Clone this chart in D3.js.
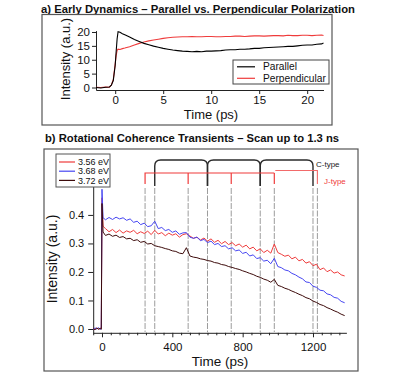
<!DOCTYPE html>
<html>
<head>
<meta charset="utf-8">
<script src="https://cdn.jsdelivr.net/npm/d3@7"></script>
<style>
  body { margin: 0; background: #fff; }
  svg { display: block; font-family: "Liberation Sans", Arial, sans-serif; }
  .axis path, .axis line { stroke: #222; stroke-width: 1; }
  .axis text { fill: #111; }
</style>
</head>
<body>
<svg id="chart" width="397" height="376"></svg>
<script>
// ---- panel a data (ps, a.u.) ----
var aTime = [-2, -1.5, -1, -0.6, -0.4, -0.2, 0, 0.1, 0.2, 0.3, 0.5, 0.75, 1, 1.5, 2, 2.5, 3, 3.5, 4, 4.5,
  5, 5.5, 6, 6.5, 7, 7.5, 8, 8.5, 9, 9.5, 10, 10.5, 11, 11.5, 12, 12.5, 13, 13.5, 14, 14.5,
  15, 15.5, 16, 16.5, 17, 17.5, 18, 18.5, 19, 19.5, 20, 20.5, 21, 21.5, 21.7];
var aParallel = [0.0, -0.2, 0.1, 0.2, 0.8, 2.5, 8, 13, 17.5, 20.1, 19.9, 19.4, 19.0, 18.2, 17.3, 16.6, 15.9, 15.4, 14.9, 14.5,
  14.1, 13.8, 13.5, 13.3, 13.1, 13.0, 12.9, 13.0, 12.9, 13.1, 13.1, 13.2, 13.3, 13.5, 13.6, 13.6, 13.8, 13.8, 13.9, 14.1,
  14.1, 14.3, 14.4, 14.5, 14.6, 14.7, 14.8, 14.8, 15.0, 15.2, 15.3, 15.3, 15.6, 15.7, 16.0];
var aPerp = [0.1, 0.0, 0.2, 0.1, 0.9, 2.8, 8.5, 11.5, 13.4, 13.8, 13.7, 14.0, 14.2, 14.7, 15.3, 15.9, 16.4, 16.8, 17.1, 17.4,
  17.7, 17.9, 18.1, 18.2, 18.3, 18.3, 18.4, 18.3, 18.3, 18.4, 18.4, 18.3, 18.3, 18.4, 18.4, 18.5, 18.5, 18.4, 18.5, 18.6,
  18.6, 18.5, 18.6, 18.7, 18.7, 18.6, 18.8, 18.7, 18.7, 18.8, 18.8, 18.7, 18.8, 18.9, 18.7];
var aTicksX = [0, 5, 10, 15, 20];
var aTicksY = [0, 5, 10, 15, 20];

// ---- panel b data (ps, a.u.) ----
var bTime = [-50, -40, -30, -20, -10, -4, 0, 6,
  20, 40, 60, 80, 100, 120, 140, 160, 180, 200, 220, 240, 260, 280, 300, 320, 340, 360, 380, 400,
  420, 440, 460, 480, 500, 520, 540, 560, 580, 600, 620, 640, 660, 680, 700, 720, 740, 760, 780, 800,
  820, 840, 860, 880, 900, 920, 940, 960, 980, 1000, 1020, 1040, 1060, 1080, 1100, 1120, 1140, 1160, 1180, 1200,
  1220, 1240, 1260, 1280, 1300, 1320, 1340, 1360, 1380];
var b356 = [0.002, -0.003, 0.004, -0.001, 0.003, 0.001, 0.46, 0.36,
  0.352, 0.341, 0.349, 0.338, 0.347, 0.336, 0.344, 0.339, 0.346, 0.334, 0.341, 0.335, 0.343, 0.331, 0.346, 0.333, 0.338, 0.327, 0.336, 0.329,
  0.334, 0.322, 0.331, 0.334, 0.326, 0.318, 0.322, 0.312, 0.319, 0.308, 0.316, 0.304, 0.311, 0.299, 0.307, 0.296, 0.303, 0.292, 0.298, 0.287,
  0.294, 0.281, 0.287, 0.274, 0.281, 0.268, 0.276, 0.266, 0.298, 0.268, 0.262, 0.255, 0.259, 0.246, 0.252, 0.239, 0.244, 0.231, 0.236, 0.222,
  0.227, 0.208, 0.214, 0.201, 0.207, 0.196, 0.200, 0.190, 0.186];
var b368 = [-0.002, 0.004, 0.0, 0.005, -0.002, 0.002, 0.49, 0.39,
  0.383, 0.391, 0.384, 0.392, 0.386, 0.390, 0.381, 0.386, 0.374, 0.378, 0.366, 0.371, 0.359, 0.362, 0.378, 0.352, 0.356, 0.345, 0.349, 0.339,
  0.344, 0.332, 0.337, 0.338, 0.322, 0.318, 0.322, 0.310, 0.314, 0.303, 0.308, 0.296, 0.300, 0.289, 0.292, 0.281, 0.285, 0.274, 0.277, 0.265,
  0.269, 0.256, 0.260, 0.247, 0.250, 0.238, 0.241, 0.229, 0.248, 0.219, 0.215, 0.207, 0.204, 0.195, 0.190, 0.182, 0.176, 0.165, 0.163, 0.150,
  0.146, 0.136, 0.134, 0.123, 0.120, 0.111, 0.108, 0.097, 0.092];
var b372 = [0.001, -0.002, 0.003, 0.0, 0.002, -0.001, 0.44, 0.34,
  0.328, 0.333, 0.325, 0.329, 0.321, 0.324, 0.316, 0.318, 0.310, 0.313, 0.304, 0.307, 0.298, 0.300, 0.292, 0.289, 0.286, 0.282, 0.279, 0.274,
  0.272, 0.266, 0.264, 0.285, 0.256, 0.252, 0.250, 0.246, 0.244, 0.240, 0.238, 0.233, 0.231, 0.226, 0.224, 0.219, 0.216, 0.212, 0.209, 0.204,
  0.200, 0.195, 0.191, 0.185, 0.181, 0.175, 0.171, 0.164, 0.174, 0.153, 0.149, 0.143, 0.139, 0.133, 0.128, 0.122, 0.117, 0.110, 0.106, 0.098,
  0.093, 0.086, 0.082, 0.075, 0.070, 0.064, 0.059, 0.052, 0.047];
var bTicksX = [0, 400, 800, 1200];
var bMinorX = [-50, 50, 100, 150, 200, 250, 300, 350, 450, 500, 550, 600, 650, 700, 750, 850, 900, 950, 1000, 1050, 1100, 1150, 1250, 1300, 1350];
var bTicksY = [0, 0.1, 0.2, 0.3, 0.4];
var cType = [300, 600, 900, 1200];   // C-type recurrences
var jType = [245, 490, 735, 980, 1225]; // J-type recurrences

var bSeries = [
  {name: "3.56 eV", values: b356, color: "#ef3b3b"},
  {name: "3.68 eV", values: b368, color: "#4646f2"},
  {name: "3.72 eV", values: b372, color: "#3d0b0b"}
];

var svg = d3.select("#chart");

//======== panel a ========
svg.append("text").attr("x", 41).attr("y", 12.5)
  .attr("font-size", 11).attr("font-weight", "bold").attr("fill", "#111")
  .attr("textLength", 314).attr("lengthAdjust", "spacingAndGlyphs")
  .text("a) Early Dynamics \u2013 Parallel vs. Perpendicular Polarization");
svg.append("rect").attr("x", 42).attr("y", 14.5).attr("width", 290).attr("height", 110.5)
  .attr("fill", "none").attr("stroke", "#555").attr("stroke-width", 1.2);

var xa = d3.scaleLinear().domain([-2, 21.7]).range([96, 323.5]);
var ya = d3.scaleLinear().domain([-0.9, 20.5]).range([90, 30.6]);

svg.append("g").attr("class", "axis").attr("transform", "translate(0,90)")
  .call(d3.axisBottom(xa).tickValues(aTicksX).tickSize(4).tickSizeOuter(0).tickPadding(2))
  .selectAll("text").attr("font-size", 11.5);
svg.append("g").attr("class", "axis").attr("transform", "translate(96,0)")
  .call(d3.axisLeft(ya).tickValues(aTicksY).tickSize(4).tickSizeOuter(0).tickPadding(2))
  .selectAll("text").attr("font-size", 11.5);

var lineA = d3.line().x(function (d) { return xa(d[0]); }).y(function (d) { return ya(d[1]); });
svg.append("path").datum(d3.zip(aTime, aPerp)).attr("d", lineA)
  .attr("fill", "none").attr("stroke", "#ef3b3b").attr("stroke-width", 1.1);
svg.append("path").datum(d3.zip(aTime, aParallel)).attr("d", lineA)
  .attr("fill", "none").attr("stroke", "#000").attr("stroke-width", 1.1);

svg.append("text").attr("x", 211).attr("y", 119).attr("text-anchor", "middle")
  .attr("font-size", 13).attr("fill", "#111").text("Time (ps)");
svg.append("text").attr("transform", "translate(70,59) rotate(-90)").attr("text-anchor", "middle")
  .attr("font-size", 13).attr("fill", "#111").text("Intensity (a.u.)");

// legend a
var legA = svg.append("g");
legA.append("rect").attr("x", 233).attr("y", 60).attr("width", 96).attr("height", 24)
  .attr("fill", "#fff").attr("stroke", "#444").attr("stroke-width", 1);
[{n: "Parallel", c: "#000"}, {n: "Perpendicular", c: "#ef3b3b"}].forEach(function (e, i) {
  var yy = 66.8 + i * 11.5;
  legA.append("line").attr("x1", 237).attr("x2", 255).attr("y1", yy).attr("y2", yy)
    .attr("stroke", e.c).attr("stroke-width", 1.2);
  legA.append("text").attr("x", 263).attr("y", yy + 3.6).attr("font-size", 10.2).attr("fill", "#111").text(e.n);
});

//======== panel b ========
svg.append("text").attr("x", 45).attr("y", 141.5)
  .attr("font-size", 11).attr("font-weight", "bold").attr("fill", "#111")
  .attr("textLength", 294).attr("lengthAdjust", "spacingAndGlyphs")
  .text("b) Rotational Coherence Transients \u2013 Scan up to 1.3 ns");
svg.append("rect").attr("x", 44).attr("y", 149).attr("width", 314).attr("height", 222)
  .attr("fill", "none").attr("stroke", "#555").attr("stroke-width", 1.2);

var xb = d3.scaleLinear().domain([-50, 1390]).range([93.2, 346.4]);
var yb = d3.scaleLinear().domain([-0.0133, 0.575]).range([332.8, 165]);

// dashed markers
var bracketBottom = 186;
cType.concat(jType).forEach(function (t) {
  svg.append("line").attr("x1", xb(t)).attr("x2", xb(t)).attr("y1", bracketBottom + 2).attr("y2", 332)
    .attr("stroke", "#9c9c9c").attr("stroke-width", 1).attr("stroke-dasharray", "6,1.5");
});

svg.append("g").attr("class", "axis").attr("transform", "translate(0,332.8)")
  .call(d3.axisBottom(xb).tickValues(bTicksX).tickSize(4.5).tickSizeOuter(0).tickPadding(6).tickFormat(d3.format("d")))
  .selectAll("text").attr("font-size", 11.5);
svg.append("g").attr("class", "axis").attr("transform", "translate(0,332.8)")
  .call(d3.axisBottom(xb).tickValues(bMinorX).tickSize(2.5).tickSizeOuter(0).tickFormat(""))
  .select(".domain").remove();
svg.append("g").attr("class", "axis").attr("transform", "translate(93.2,0)")
  .call(d3.axisLeft(yb).tickValues(bTicksY).tickSize(5).tickSizeOuter(0).tickPadding(4).tickFormat(d3.format(".1f")))
  .selectAll("text").attr("font-size", 11);

var lineB = d3.line().x(function (d) { return xb(d[0]); }).y(function (d) { return yb(d[1]); });
bSeries.forEach(function (s) {
  svg.append("path").datum(d3.zip(bTime, s.values)).attr("d", lineB)
    .attr("fill", "none").attr("stroke", s.color).attr("stroke-width", 1);
});

// C-type bracket (black, rounded)
var cTop = 160, r = 6;
for (var i = 0; i < cType.length - 1; i++) {
  var x1 = xb(cType[i]), x2 = xb(cType[i + 1]);
  svg.append("path")
    .attr("d", "M" + x1 + "," + bracketBottom + " L" + x1 + "," + (cTop + r) +
      " Q" + x1 + "," + cTop + " " + (x1 + r) + "," + cTop +
      " L" + (x2 - r) + "," + cTop +
      " Q" + x2 + "," + cTop + " " + x2 + "," + (cTop + r) +
      " L" + x2 + "," + bracketBottom)
    .attr("fill", "none").attr("stroke", "#2a2a2a").attr("stroke-width", 1.4);
}
svg.append("text").attr("x", 316).attr("y", 167).attr("font-size", 8).attr("fill", "#222").text("C-type");

// J-type bracket (red, square)
var jTop = 173;
svg.append("path")
  .attr("d", "M" + xb(jType[0]) + "," + (bracketBottom - 2) + " L" + xb(jType[0]) + "," + jTop +
    " L" + xb(jType[3]) + "," + jTop)
  .attr("fill", "none").attr("stroke", "#ef3b3b").attr("stroke-width", 1.2);
jType.slice(1, 4).forEach(function (t) {
  svg.append("line").attr("x1", xb(t)).attr("x2", xb(t)).attr("y1", jTop).attr("y2", bracketBottom - 2)
    .attr("stroke", "#ef3b3b").attr("stroke-width", 1.2);
});
svg.append("path")
  .attr("d", "M" + (xb(jType[3]) + 1) + "," + (jTop - 2.5) + " L" + xb(jType[4]) + "," + (jTop - 2.5) +
    " L" + xb(jType[4]) + "," + (bracketBottom - 2))
  .attr("fill", "none").attr("stroke", "#f26a6a").attr("stroke-width", 1.1);
svg.append("text").attr("x", 324).attr("y", 184).attr("font-size", 8).attr("fill", "#ef3b3b").text("J-type");

svg.append("text").attr("x", 220).attr("y", 366).attr("text-anchor", "middle")
  .attr("font-size", 13.5).attr("fill", "#111").text("Time (ps)");
svg.append("text").attr("transform", "translate(57,259) rotate(-90)").attr("text-anchor", "middle")
  .attr("font-size", 14).attr("fill", "#111").text("Intensity (a.u.)");

// legend b
var legB = svg.append("g");
legB.append("rect").attr("x", 56).attr("y", 154).attr("width", 54).attr("height", 33)
  .attr("fill", "#fff").attr("stroke", "#555").attr("stroke-width", 1);
bSeries.forEach(function (s, i) {
  var yy = 162 + i * 9.2;
  legB.append("line").attr("x1", 59).attr("x2", 75).attr("y1", yy).attr("y2", yy)
    .attr("stroke", s.color).attr("stroke-width", 1.2);
  legB.append("text").attr("x", 78).attr("y", yy + 3.2).attr("font-size", 9).attr("fill", "#111").text(s.name);
});
</script>
</body>
</html>
